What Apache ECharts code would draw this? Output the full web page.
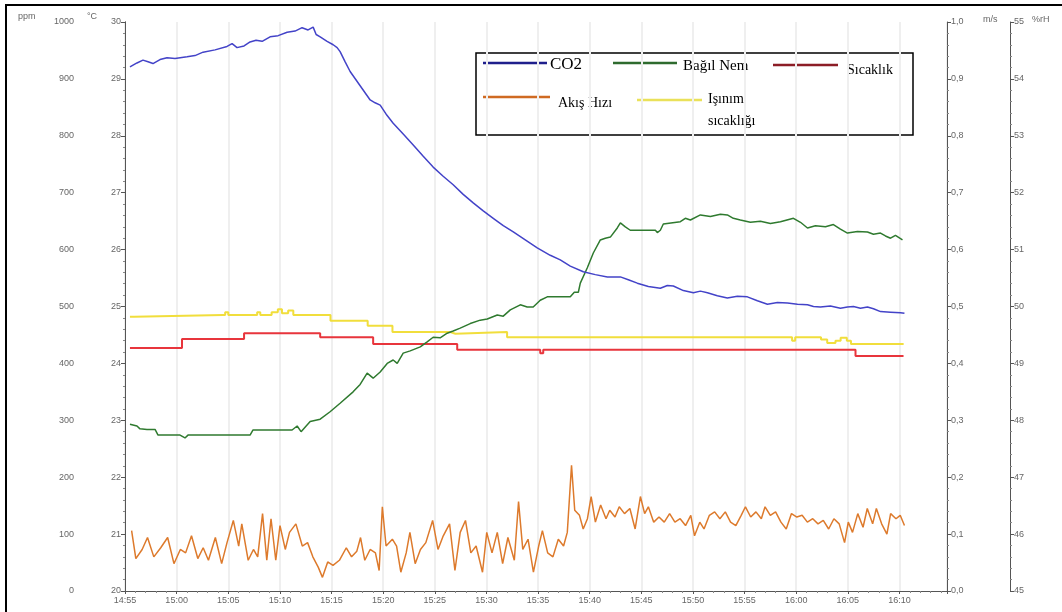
<!DOCTYPE html>
<html>
<head>
<meta charset="utf-8">
<script src="https://cdn.jsdelivr.net/npm/echarts@6/dist/echarts.min.js"></script>
<style>
  html, body { margin: 0; padding: 0; background: #ffffff; }
  #chart { width: 1062px; height: 612px; }
</style>
</head>
<body>
<div id="chart"></div>
<script>
// Time is given in minutes after 14:55.
const START_MIN = 14 * 60 + 55;

// CO2 concentration, ppm
const co2 = [
  [0.48,921],[1.16,928],[1.74,933],[2.23,930],[2.71,927],[3.39,934],[4.07,937],[4.84,936],
  [6.01,939],[6.78,941],[7.56,947],[8.72,951],[9.88,957],[10.37,962],[10.85,955],[11.53,958],
  [12.11,965],[12.69,968],[13.28,966],[14.05,974],[14.83,976],[15.70,982],[16.47,984],[17.15,990],
  [17.73,986],[18.22,991],[18.51,978],[18.90,974],[19.57,966],[20.16,960],[20.54,955],[20.83,948],
  [21.32,930],[21.80,913],[22.77,888],[23.74,863],[24.22,858],[24.71,854],[25.29,838],[25.97,822],
  [26.94,803],[27.91,784],[28.88,764],[29.84,745],[30.81,729],[31.78,714],[32.75,697],[33.72,682],
  [34.69,668],[35.66,655],[36.63,642],[37.60,631],[38.76,617],[39.92,603],[41.18,590],[42.15,582],
  [43.12,571],[44.38,561],[45.54,556],[46.71,552],[47.97,552],[48.74,547],[49.61,541],[50.68,535],
  [51.84,532],[52.52,537],[53.10,536],[54.07,528],[55.04,524],[55.72,527],[56.40,524],[57.36,519],
  [58.33,515],[59.30,518],[60.27,517],[61.24,510],[62.21,504],[63.18,507],[64.15,506],[65.12,504],
  [66.09,503],[66.67,500],[67.34,499],[68.31,501],[69.28,497],[69.96,499],[70.54,500],[71.22,497],
  [71.90,499],[72.48,496],[73.16,491],[74.13,490],[75.10,489],[75.48,488]
];

// Relative humidity, %rH
const humidity = [
  [0.48,47.93],[1.16,47.90],[1.45,47.85],[2.13,47.84],[2.91,47.84],[3.20,47.74],[5.33,47.74],
  [5.81,47.69],[6.10,47.74],[12.11,47.74],[12.40,47.83],[16.18,47.83],[16.67,47.90],[17.05,47.80],
  [17.93,47.98],[18.90,48.02],[19.86,48.15],[20.83,48.30],[22.09,48.50],[22.77,48.63],[23.45,48.83],
  [24.03,48.74],[24.71,48.85],[25.39,49.00],[25.97,49.06],[26.36,49.00],[26.94,49.18],[27.62,49.22],
  [28.59,49.29],[29.26,49.38],[29.84,49.46],[30.52,49.45],[31.20,49.53],[31.78,49.57],[32.46,49.62],
  [33.43,49.70],[34.40,49.76],[35.08,49.78],[36.05,49.85],[36.63,49.83],[37.31,49.94],[38.28,50.03],
  [38.95,49.99],[39.53,49.99],[40.21,50.11],[40.89,50.17],[42.15,50.17],[43.12,50.17],[43.51,50.25],
  [43.90,50.25],[44.09,50.41],[44.77,50.68],[45.35,50.94],[46.03,51.17],[46.51,51.20],[47.00,51.22],
  [47.67,51.38],[47.97,51.47],[48.45,51.40],[48.93,51.34],[51.36,51.34],[51.55,51.30],[51.84,51.34],
  [52.13,51.45],[53.78,51.49],[54.26,51.55],[54.75,51.52],[55.72,51.61],[56.69,51.58],[57.66,51.62],
  [58.33,51.61],[58.91,51.55],[59.59,51.52],[60.56,51.48],[61.53,51.50],[62.50,51.46],[63.47,51.49],
  [64.73,51.55],[65.41,51.48],[66.09,51.38],[66.86,51.42],[67.83,51.40],[68.60,51.44],[69.28,51.36],
  [69.96,51.29],[70.93,51.32],[71.90,51.31],[72.48,51.27],[73.16,51.29],[73.64,51.24],[74.13,51.20],
  [74.61,51.25],[75.29,51.17]
];

// Air temperature, °C (stepwise logger readings)
const airTemp = [
  [0.48,24.27],[5.52,24.43],[11.53,24.53],[18.90,24.46],[24.03,24.34],[32.17,24.24],
  [40.21,24.18],[40.50,24.24],[70.74,24.13],[75.39,24.13]
];

// Radiant temperature, °C (stepwise logger readings)
const radiantTemp = [
  [0.48,24.82],[0.90,24.85],[9.50,24.85],[9.70,24.90],[10.00,24.85],[12.60,24.85],[12.80,24.90],
  [13.10,24.85],[14.20,24.90],[14.80,24.95],[15.20,24.88],[15.80,24.93],[16.30,24.85],[19.90,24.75],
  [23.50,24.66],[25.90,24.55],[31.50,24.52],[32.00,24.55],[37.00,24.46],[64.60,24.40],[64.90,24.46],
  [67.40,24.42],[68.00,24.36],[68.80,24.40],[69.30,24.45],[69.90,24.40],[70.30,24.34],[75.40,24.34]
];

// Air speed, m/s
const airSpeed = [
  [0.64,0.106],[1.05,0.057],[1.66,0.073],[2.18,0.094],[2.79,0.060],[3.46,0.076],[4.13,0.094],[4.74,0.048],
  [5.36,0.073],[5.87,0.067],[6.44,0.097],[7.05,0.057],[7.57,0.076],[8.08,0.054],[8.75,0.094],[9.36,0.048],
  [9.88,0.085],[10.49,0.124],[11.01,0.079],[11.31,0.118],[11.93,0.054],[12.44,0.073],[12.85,0.060],[13.32,0.136],
  [13.73,0.054],[14.14,0.127],[14.60,0.054],[15.01,0.115],[15.52,0.073],[15.93,0.103],[16.55,0.118],[17.17,0.079],
  [17.68,0.085],[18.19,0.060],[18.71,0.042],[19.12,0.024],[19.63,0.051],[20.14,0.045],[20.76,0.054],[21.43,0.076],
  [21.94,0.060],[22.45,0.070],[22.81,0.094],[23.22,0.054],[23.74,0.073],[24.25,0.067],[24.61,0.036],[24.92,0.148],
  [25.28,0.079],[25.89,0.091],[26.30,0.079],[26.71,0.033],[27.23,0.067],[27.59,0.103],[28.10,0.048],[28.61,0.073],
  [29.13,0.085],[29.79,0.124],[30.31,0.073],[30.82,0.097],[31.43,0.118],[31.95,0.036],[32.46,0.103],[32.97,0.124],
  [33.49,0.067],[34.00,0.079],[34.62,0.033],[35.03,0.103],[35.54,0.067],[36.05,0.103],[36.57,0.048],[37.08,0.094],
  [37.70,0.054],[38.11,0.157],[38.52,0.073],[39.03,0.091],[39.55,0.033],[40.06,0.079],[40.42,0.106],[40.93,0.067],
  [41.44,0.060],[41.96,0.091],[42.47,0.079],[42.83,0.103],[43.24,0.221],[43.55,0.142],[44.01,0.133],[44.37,0.109],
  [44.78,0.127],[45.14,0.166],[45.55,0.121],[46.06,0.151],[46.58,0.127],[46.94,0.142],[47.45,0.130],[47.86,0.148],
  [48.37,0.136],[48.89,0.145],[49.40,0.109],[49.91,0.166],[50.32,0.136],[50.68,0.148],[51.20,0.121],[51.71,0.130],
  [52.22,0.121],[52.74,0.136],[53.25,0.121],[53.76,0.127],[54.28,0.115],[54.79,0.133],[55.15,0.097],[55.66,0.121],
  [56.07,0.109],[56.59,0.133],[57.10,0.139],[57.61,0.127],[58.13,0.139],[58.64,0.121],[59.15,0.115],[59.67,0.133],
  [60.08,0.148],[60.59,0.130],[61.10,0.139],[61.62,0.127],[61.98,0.148],[62.49,0.133],[63.00,0.139],[63.52,0.121],
  [64.03,0.109],[64.54,0.136],[65.06,0.130],[65.57,0.133],[66.08,0.121],[66.60,0.127],[67.11,0.118],[67.62,0.124],
  [68.14,0.109],[68.65,0.127],[69.16,0.118],[69.68,0.085],[70.04,0.121],[70.45,0.103],[70.96,0.136],[71.47,0.112],
  [71.88,0.145],[72.40,0.118],[72.76,0.145],[73.27,0.118],[73.78,0.100],[74.14,0.136],[74.66,0.127],[75.07,0.133],
  [75.48,0.115]
];

// Legend entries
const legendNames = ['CO2', 'Bağıl Nem', 'Sıcaklık', 'Akış Hızı', 'Işınım\nsıcaklığı'];
// Axis units
const unitLabels = ['ppm', '°C', 'm/s', '%rH'];

const AXIS_GRAY = '#555';
const LABEL_GRAY = '#666';
const LABEL_FONT = 'Liberation Sans, Arial, sans-serif';
const SERIF = 'Liberation Serif, Times New Roman, serif';

function clockLabel(v) {
  if (Math.abs(v % 5) > 1e-6) return '';
  const m = Math.round(START_MIN + v);
  return Math.floor(m / 60) + ':' + String(m % 60).padStart(2, '0');
}

function plainNumber(v) {
  return String(Math.round(v));
}

function yAxisBase(extra) {
  return Object.assign({
    type: 'value',
    axisLine: { show: true, lineStyle: { color: AXIS_GRAY, width: 1 } },
    axisTick: { show: true, length: 4, lineStyle: { color: AXIS_GRAY } },
    minorTick: { show: true, splitNumber: 5, length: 2, lineStyle: { color: '#888' } },
    splitLine: { show: false },
    axisLabel: { color: LABEL_GRAY, fontSize: 9, fontFamily: LABEL_FONT, margin: 4, formatter: plainNumber }
  }, extra);
}

const chart = echarts.init(document.getElementById('chart'), null, { renderer: 'canvas' });

const option = {
  animation: false,
  backgroundColor: '#ffffff',
  grid: { left: 125, right: 115, top: 22, bottom: 21, containLabel: false },
  xAxis: {
    type: 'value',
    min: 0,
    max: 79.6,
    interval: 5,
    axisLine: { show: true, onZero: false, lineStyle: { color: AXIS_GRAY } },
    axisTick: { show: true, length: 3, lineStyle: { color: AXIS_GRAY } },
    minorTick: { show: true, splitNumber: 5, length: 2, lineStyle: { color: '#888' } },
    axisLabel: { color: LABEL_GRAY, fontSize: 9, fontFamily: LABEL_FONT, margin: 5, formatter: clockLabel, showMaxLabel: false },
    splitLine: { show: true, lineStyle: { color: '#efefef', width: 2 } }
  },
  yAxis: [
    yAxisBase({ position: 'left', offset: 47, min: 0, max: 1000, interval: 100 }),
    yAxisBase({ position: 'left', offset: 0, min: 20, max: 30, interval: 1 }),
    yAxisBase({ position: 'right', offset: 0, min: 0, max: 1.0, interval: 0.1,
      axisLabel: { color: LABEL_GRAY, fontSize: 9, fontFamily: LABEL_FONT, margin: 4,
        formatter: v => v.toFixed(1).replace('.', ',') } }),
    yAxisBase({ position: 'right', offset: 63, min: 45, max: 55, interval: 1 })
  ],
  series: [
    { name: legendNames[4], type: 'line', yAxisIndex: 1, data: radiantTemp, step: 'end',
      showSymbol: false, lineStyle: { color: '#f1de3c', width: 2 } },
    { name: legendNames[2], type: 'line', yAxisIndex: 1, data: airTemp, step: 'end',
      showSymbol: false, lineStyle: { color: '#e8353c', width: 2 } },
    { name: legendNames[3], type: 'line', yAxisIndex: 2, data: airSpeed,
      showSymbol: false, lineStyle: { color: '#dd7a2c', width: 1.5 } },
    { name: legendNames[1], type: 'line', yAxisIndex: 3, data: humidity,
      showSymbol: false, lineStyle: { color: '#2f7a2f', width: 1.5 } },
    { name: legendNames[0], type: 'line', yAxisIndex: 0, data: co2,
      showSymbol: false, lineStyle: { color: '#4343c8', width: 1.5 } }
  ],
  graphic: [
    // outer frame
    { type: 'rect', shape: { x: 6, y: 5, width: 1070, height: 630 },
      style: { fill: null, stroke: '#000', lineWidth: 2 }, silent: true },
    // units
    { type: 'text', left: 18, top: 12, style: { text: unitLabels[0], fill: LABEL_GRAY, font: '9px ' + LABEL_FONT } },
    { type: 'text', left: 87, top: 12, style: { text: unitLabels[1], fill: LABEL_GRAY, font: '9px ' + LABEL_FONT } },
    { type: 'text', left: 983, top: 15, style: { text: unitLabels[2], fill: LABEL_GRAY, font: '9px ' + LABEL_FONT } },
    { type: 'text', left: 1032, top: 15, style: { text: unitLabels[3], fill: LABEL_GRAY, font: '9px ' + LABEL_FONT } },
    // legend box
    { type: 'group', children: [
      { type: 'rect', shape: { x: 476, y: 53, width: 437, height: 82 },
        style: { fill: '#fff', stroke: '#000', lineWidth: 1.5 } },
      { type: 'line', shape: { x1: 483, y1: 63, x2: 547, y2: 63 }, style: { stroke: '#1f1f8c', lineWidth: 2.5 } },
      { type: 'text', x: 550, y: 65, style: { text: legendNames[0], fill: '#000', font: '17px ' + SERIF, verticalAlign: 'middle' } },
      { type: 'line', shape: { x1: 613, y1: 63, x2: 677, y2: 63 }, style: { stroke: '#2e6b2e', lineWidth: 2.5 } },
      { type: 'text', x: 683, y: 66, style: { text: legendNames[1], fill: '#000', font: '15px ' + SERIF, verticalAlign: 'middle' } },
      { type: 'line', shape: { x1: 773, y1: 65, x2: 838, y2: 65 }, style: { stroke: '#8c1d26', lineWidth: 2.5 } },
      { type: 'text', x: 847, y: 70, style: { text: legendNames[2], fill: '#000', font: '14px ' + SERIF, verticalAlign: 'middle' } },
      { type: 'line', shape: { x1: 483, y1: 97, x2: 550, y2: 97 }, style: { stroke: '#cf6a22', lineWidth: 2.5 } },
      { type: 'text', x: 558, y: 103, style: { text: legendNames[3], fill: '#000', font: '14px ' + SERIF, verticalAlign: 'middle' } },
      { type: 'line', shape: { x1: 637, y1: 100, x2: 702, y2: 100 }, style: { stroke: '#eae15a', lineWidth: 2.5 } },
      { type: 'text', x: 708, y: 88, style: { text: legendNames[4], fill: '#000', font: '14px ' + SERIF, lineHeight: 22 } }
    ] }
  ]
};

chart.setOption(option);
</script>
</body>
</html>
